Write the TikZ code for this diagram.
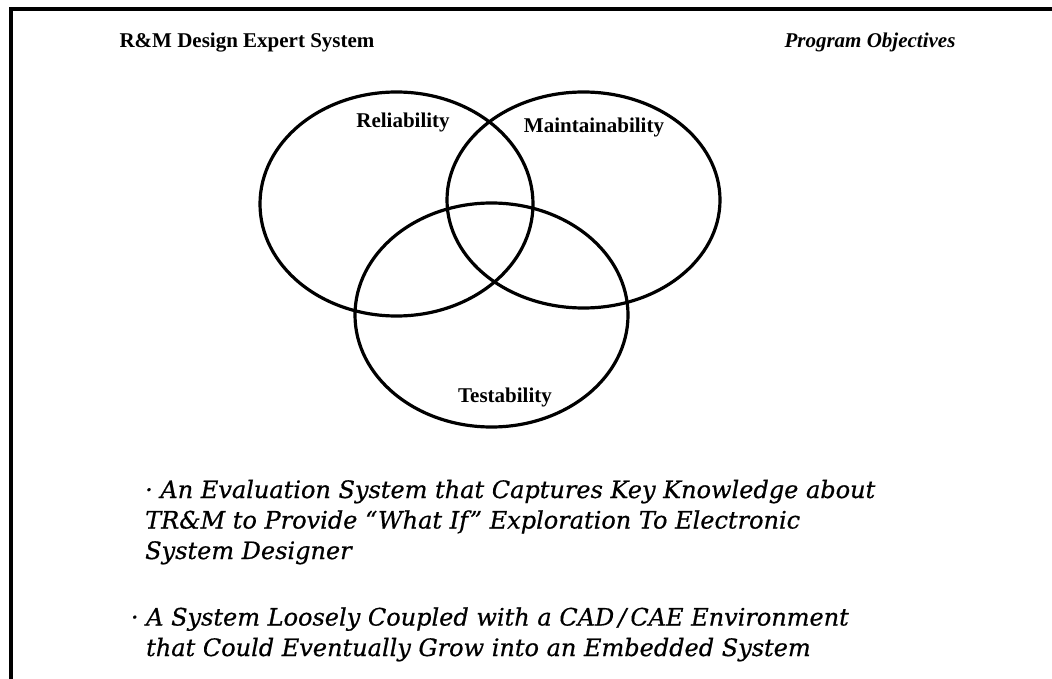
\documentclass[tikz,border=0pt]{standalone}
\usepackage{fontspec}
\setmainfont{Liberation Serif}
\newfontfamily\bodyfont[FakeBold=0.6]{DejaVu Serif}
\usetikzlibrary{shapes.geometric, positioning}

\begin{document}
\begin{tikzpicture}
  [x=1pt, y=-1pt,
   ring/.style={ellipse, draw, line width=3.2pt, minimum width=273pt, inner sep=0pt},
   tag/.style={font=\fontsize{21}{24}\selectfont\bfseries, inner sep=0pt, anchor=base},
   point/.style={font=\bodyfont\itshape\fontsize{24}{30.5}\selectfont, align=left, inner sep=0pt, anchor=base west}]
  \useasboundingbox (0,0) rectangle (1052,679);
  \draw [line width=3.5pt] (11,679) -- (11,9) -- (1052,9);
  \node (title) [tag] at (247,48) {R\&M Design Expert System};
  \node (topic) [tag, font=\fontsize{21}{24}\selectfont\bfseries\itshape] at (870,48) {Program Objectives};
  % the three circles
  \node (rel) [ring, minimum height=224pt] at (396.5,204) {};
  \node (mnt) [ring, minimum height=216pt] at (583.5,200) {};
  \node (tst) [ring, minimum height=224pt] at (491.5,315) {};
  \node (relname) [tag] at (403,128) {Reliability};
  \node (mntname) [tag] at (594,133) {Maintainability};
  \node (tstname) [tag] at (505,402) {Testability};
  % objectives
  \node (eval) [point] at (145,559) {· An Evaluation System that Captures Key Knowledge about\\
    TR\&M to Provide “What If” Exploration To Electronic\\System Designer};
  \node (cad) [point] at (146,656) {\llap{· }A System Loosely Coupled with a CAD\,/\,CAE Environment\\
    that Could Eventually Grow into an Embedded System};
\end{tikzpicture}
\end{document}
